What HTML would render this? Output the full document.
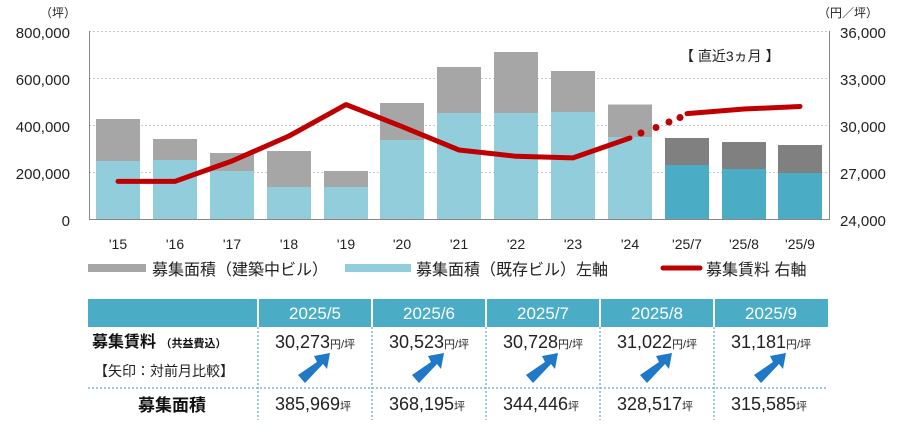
<!DOCTYPE html>
<html><head><meta charset="utf-8"><style>
body{margin:0;background:#fff;width:900px;height:424px;overflow:hidden;font-family:"Liberation Sans","Noto Sans CJK JP",sans-serif}
svg text{font-family:"Liberation Sans","Noto Sans CJK JP",sans-serif}
</style></head><body>
<svg width="900" height="424" xmlns="http://www.w3.org/2000/svg">
<g stroke="#c8c8c8" stroke-dasharray="2,2" stroke-width="1">
<line x1="89" x2="829" y1="31.5" y2="31.5"/><line x1="89" x2="829" y1="78.5" y2="78.5"/>
<line x1="89" x2="829" y1="125.5" y2="125.5"/><line x1="89" x2="829" y1="172.5" y2="172.5"/>
</g>
<g fill="#a6a6a6">
<rect x="96" y="119" width="44" height="100"/><rect x="153" y="139" width="44" height="80"/>
<rect x="210" y="153" width="44" height="66"/><rect x="267" y="151" width="44" height="68"/>
<rect x="324" y="171" width="44" height="48"/><rect x="380" y="103" width="44" height="116"/>
<rect x="437" y="67" width="44" height="152"/><rect x="494" y="52" width="44" height="167"/>
<rect x="551" y="71" width="44" height="148"/><rect x="608" y="104.5" width="44" height="115"/>
</g>
<g fill="#808080">
<rect x="665" y="138" width="44" height="81"/><rect x="722" y="142" width="44" height="77"/><rect x="778" y="145" width="44" height="74"/>
</g>
<g fill="#92cddc">
<rect x="96" y="161" width="44" height="58"/><rect x="153" y="160" width="44" height="59"/>
<rect x="210" y="171" width="44" height="48"/><rect x="267" y="187" width="44" height="32"/>
<rect x="324" y="187" width="44" height="32"/><rect x="380" y="140" width="44" height="79"/>
<rect x="437" y="113" width="44" height="106"/><rect x="494" y="113" width="44" height="106"/>
<rect x="551" y="112" width="44" height="107"/><rect x="608" y="137" width="44" height="82"/>
</g>
<g fill="#4bacc6">
<rect x="665" y="165" width="44" height="54"/><rect x="722" y="169" width="44" height="50"/><rect x="778" y="173" width="44" height="46"/>
</g>
<line x1="89.5" y1="31" x2="89.5" y2="219" stroke="#888"/>
<line x1="829.5" y1="31" x2="829.5" y2="219" stroke="#888"/>
<line x1="89" y1="219.5" x2="830" y2="219.5" stroke="#888"/>
<polyline points="118,181.4 175,181.4 232,161 289,136 346,104.6 402,126.6 459,150 516,156.3 573,157.9 630,138" fill="none" stroke="#c00000" stroke-width="5" stroke-linejoin="round" stroke-linecap="round"/>
<g fill="#c00000"><circle cx="641" cy="133" r="3.5"/><circle cx="656" cy="127.5" r="3.5"/><circle cx="669" cy="122" r="3.5"/><circle cx="680" cy="117.5" r="3.5"/></g>
<polyline points="687,113.6 744,109 800,106.5" fill="none" stroke="#c00000" stroke-width="5" stroke-linecap="round"/>
<g font-size="15" fill="#222" text-anchor="end">
<text x="70" y="38">800,000</text><text x="70" y="85">600,000</text><text x="70" y="132">400,000</text><text x="70" y="179">200,000</text><text x="70" y="226">0</text>
</g>
<g font-size="15" fill="#222" text-anchor="start">
<text x="840" y="38">36,000</text><text x="840" y="85">33,000</text><text x="840" y="132">30,000</text><text x="840" y="179">27,000</text><text x="840" y="226">24,000</text>
</g>
<text x="40" y="17" font-size="12" fill="#222">（坪）</text>
<text x="818" y="17" font-size="12" fill="#222">（円／坪）</text>
<text x="680" y="61" font-size="14" fill="#222">【 直近3ヵ月 】</text>
<g font-size="14" fill="#222" text-anchor="middle">
<text x="118" y="249">'15</text><text x="175" y="249">'16</text><text x="232" y="249">'17</text><text x="289" y="249">'18</text><text x="346" y="249">'19</text><text x="402" y="249">'20</text><text x="459" y="249">'21</text><text x="516" y="249">'22</text><text x="573" y="249">'23</text><text x="630" y="249">'24</text><text x="687" y="249">'25/7</text><text x="744" y="249">'25/8</text><text x="800" y="249">'25/9</text>
</g>
<rect x="88" y="264" width="58" height="8" fill="#a6a6a6"/>
<text x="152" y="275" font-size="16" fill="#222">募集面積（建築中ビル）</text>
<rect x="345" y="264" width="66" height="8" fill="#92cddc"/>
<text x="416" y="275" font-size="16" fill="#222">募集面積（既存ビル）左軸</text>
<line x1="663" y1="268" x2="700" y2="268" stroke="#c00000" stroke-width="5" stroke-linecap="round"/>
<text x="706" y="275" font-size="16" fill="#222">募集賃料 右軸</text>
<rect x="88" y="299" width="740" height="28" fill="#4bacc6"/>
<g stroke="#fff" stroke-width="2"><line x1="258" y1="299" x2="258" y2="327"/><line x1="372" y1="299" x2="372" y2="327"/><line x1="486" y1="299" x2="486" y2="327"/><line x1="600" y1="299" x2="600" y2="327"/><line x1="714" y1="299" x2="714" y2="327"/></g>
<g stroke="#7fb8cc" stroke-dasharray="2,2" stroke-width="1.5">
<line x1="258" y1="327" x2="258" y2="420"/><line x1="372" y1="327" x2="372" y2="420"/><line x1="486" y1="327" x2="486" y2="420"/><line x1="600" y1="327" x2="600" y2="420"/><line x1="714" y1="327" x2="714" y2="420"/>
<line x1="88" y1="388" x2="828" y2="388"/>
</g>
<g font-size="17" fill="#fff" text-anchor="middle">
<text x="315" y="319">2025/5</text><text x="429" y="319">2025/6</text><text x="543" y="319">2025/7</text><text x="657" y="319">2025/8</text><text x="771" y="319">2025/9</text>
</g>
<text x="92" y="347" font-size="16" font-weight="bold" fill="#111">募集賃料 <tspan font-size="11">（共益費込）</tspan></text>
<text x="94" y="376" font-size="14" fill="#222">【矢印：対前月比較】</text>
<text x="172" y="411" font-size="17" font-weight="bold" fill="#111" text-anchor="middle">募集面積</text>
<g fill="#222" font-size="18" text-anchor="middle">
<text x="315" y="348">30,273<tspan font-size="11">円/坪</tspan></text><text x="429" y="348">30,523<tspan font-size="11">円/坪</tspan></text><text x="543" y="348">30,728<tspan font-size="11">円/坪</tspan></text><text x="657" y="348">31,022<tspan font-size="11">円/坪</tspan></text><text x="771" y="348">31,181<tspan font-size="11">円/坪</tspan></text>
<text x="313" y="410">385,969<tspan font-size="11">坪</tspan></text><text x="427" y="410">368,195<tspan font-size="11">坪</tspan></text><text x="541" y="410">344,446<tspan font-size="11">坪</tspan></text><text x="655" y="410">328,517<tspan font-size="11">坪</tspan></text><text x="769" y="410">315,585<tspan font-size="11">坪</tspan></text>
</g>
<defs><g id="ar"><polygon points="0,16 19,3 16,-3 32,-6 29,10 25,5 7,24" fill="#1f78c8"/></g></defs>
<use href="#ar" x="298" y="359"/><use href="#ar" x="412" y="359"/><use href="#ar" x="526" y="359"/><use href="#ar" x="640" y="359"/><use href="#ar" x="754" y="359"/>
</svg>
</body></html>
